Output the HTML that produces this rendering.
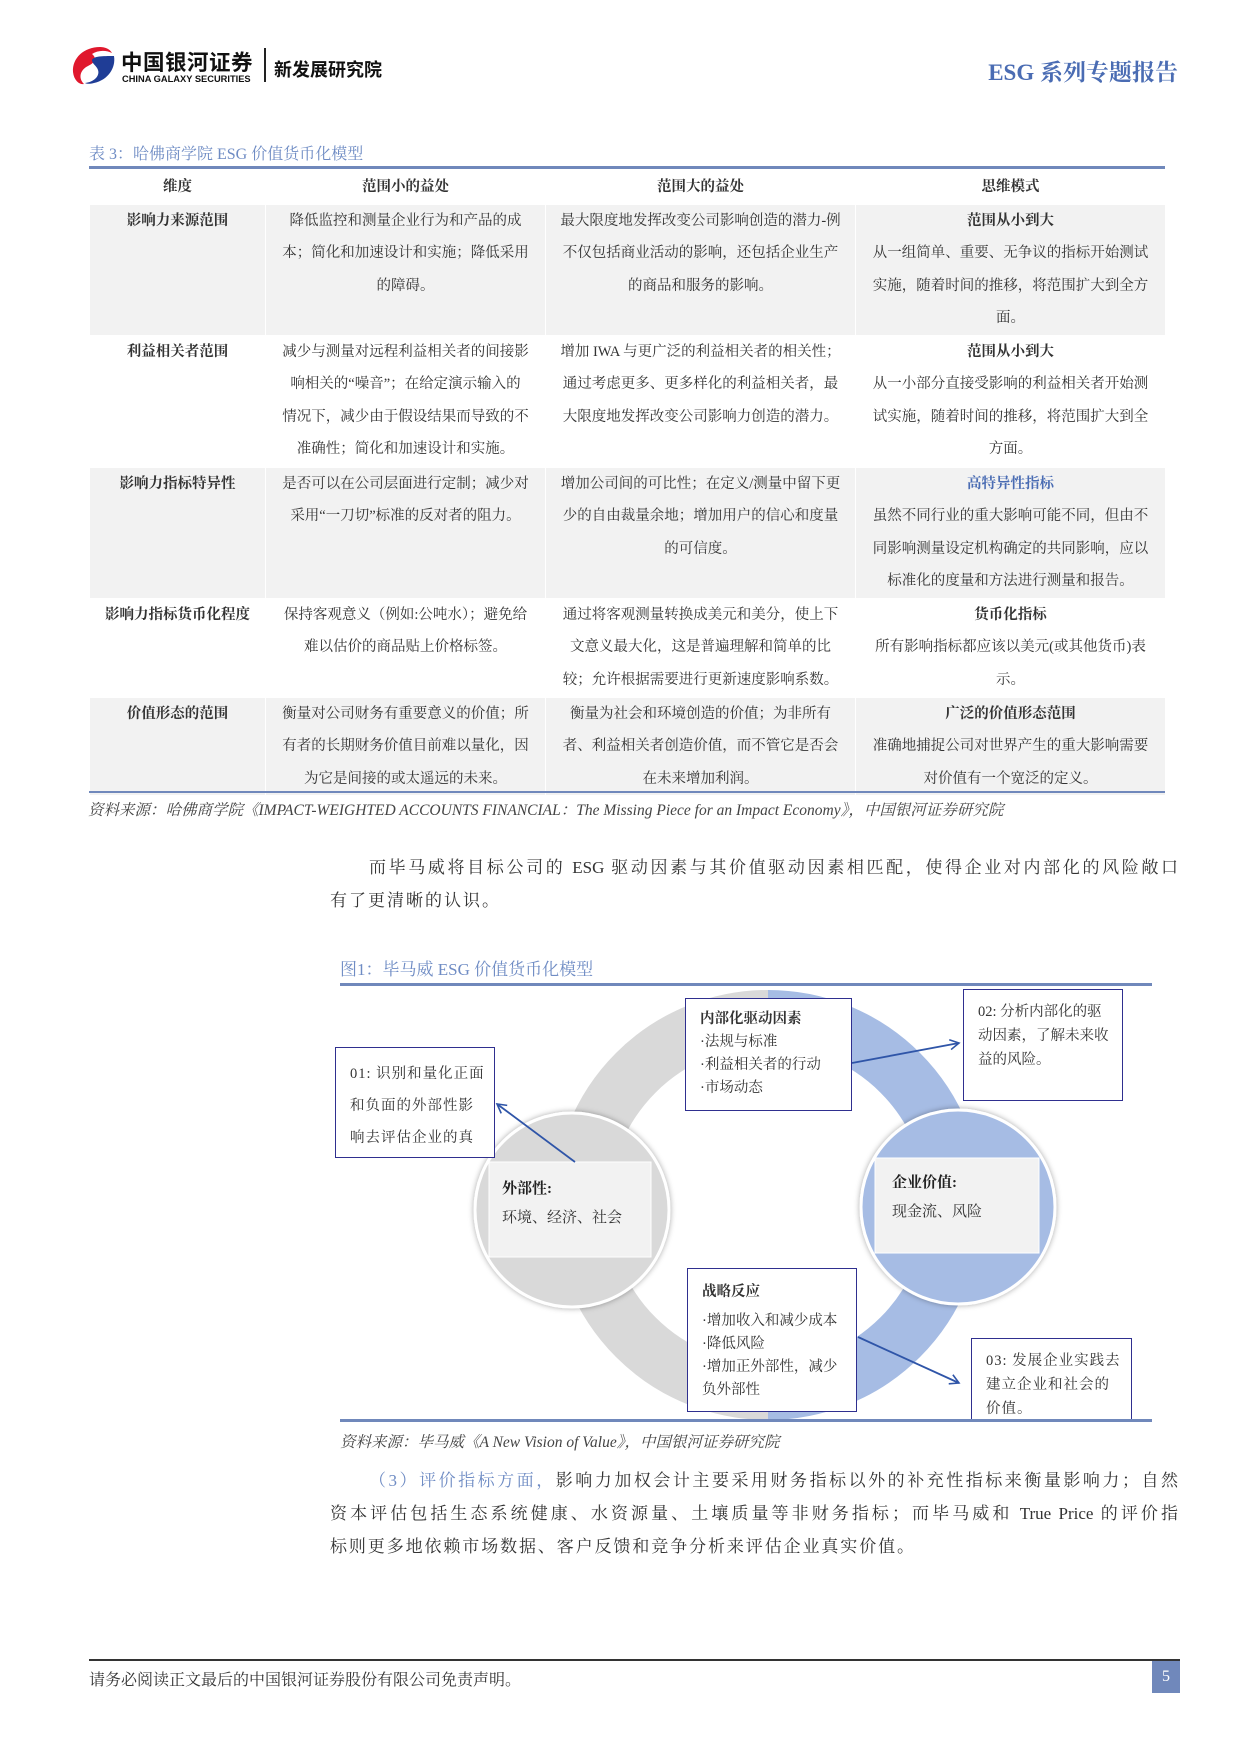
<!DOCTYPE html>
<html><head><meta charset="utf-8"><style>
*{margin:0;padding:0;box-sizing:border-box}
body{width:1240px;height:1754px;background:#fff;position:relative;overflow:hidden;font-family:"Liberation Serif","Noto Serif CJK SC",serif;color:#333}
.a{position:absolute}
.sans{font-family:"Liberation Sans","Noto Sans CJK SC",sans-serif}
table{border-collapse:collapse;table-layout:fixed;position:absolute;left:89px;top:170px;width:1076px;font-size:14.5px;line-height:32.5px}
td{border:1px solid #fff;text-align:center;vertical-align:top;padding:0 6px;color:#333}
tr.g td{background:#f2f2f2}
td.h{font-weight:bold}
.bx{position:absolute;border:1.5px solid #2f2f8f;background:#fff;font-size:14.5px;color:#333;white-space:nowrap}
.ln{position:absolute;font-size:17px;color:#333;text-align:justify;text-align-last:justify;white-space:nowrap;height:33px;line-height:33px}
</style></head><body>
<!-- header -->
<svg class="a" style="left:70px;top:44px" width="48" height="42" viewBox="0 0 48 42">
<path d="M30 3 C14 3 2 14 3 28 C4 37 10 41 14 40 C8 34 10 26 18 22 C24 19 28 15 22 10 C28 6 36 6 42 9 C40 5 35 3 30 3Z" fill="#e0182d"/>
<path d="M44 12 C46 24 38 36 24 39 C20 40 17 40 15 39 C24 38 30 32 28 26 C27 22 22 20 22 16 C24 12 32 12 44 12Z" fill="#1f3d96"/>
</svg>
<div class="a sans" style="left:121px;top:46px;font-size:21.5px;font-weight:bold;color:#111;letter-spacing:0.5px">中国银河证券</div>
<div class="a sans" style="left:122px;top:74px;font-size:9.3px;font-weight:bold;color:#111">CHINA GALAXY SECURITIES</div>
<div class="a" style="left:264px;top:48px;width:1.5px;height:34px;background:#222"></div>
<div class="a sans" style="left:274px;top:56px;font-size:18px;font-weight:bold;color:#111">新发展研究院</div>
<div class="a" style="right:62px;top:54px;font-size:23px;font-weight:bold;color:#4a6cb3">ESG 系列专题报告</div>

<!-- table -->
<div class="a" style="left:89px;top:141px;font-size:16px;color:#6f8cc4">表 3：哈佛商学院 ESG 价值货币化模型</div>
<div class="a" style="left:89px;top:166px;width:1076px;height:3px;background:#7088bb"></div>
<table>
<colgroup><col style="width:176px"><col style="width:280px"><col style="width:310px"><col style="width:310px"></colgroup>
<tr style="height:33px"><td class="h">维度</td><td class="h">范围小的益处</td><td class="h">范围大的益处</td><td class="h">思维模式</td></tr>
<tr class="g" style="height:131px"><td class="h">影响力来源范围</td><td>降低监控和测量企业行为和产品的成<br>本；简化和加速设计和实施；降低采用<br>的障碍。</td><td>最大限度地发挥改变公司影响创造的潜力-例<br>不仅包括商业活动的影响，还包括企业生产<br>的商品和服务的影响。</td><td><b>范围从小到大</b><br>从一组简单、重要、无争议的指标开始测试<br>实施，随着时间的推移，将范围扩大到全方<br>面。</td></tr>
<tr style="height:132px"><td class="h">利益相关者范围</td><td>减少与测量对远程利益相关者的间接影<br>响相关的“噪音”；在给定演示输入的<br>情况下，减少由于假设结果而导致的不<br>准确性；简化和加速设计和实施。</td><td>增加 IWA 与更广泛的利益相关者的相关性；<br>通过考虑更多、更多样化的利益相关者，最<br>大限度地发挥改变公司影响力创造的潜力。</td><td><b>范围从小到大</b><br>从一小部分直接受影响的利益相关者开始测<br>试实施，随着时间的推移，将范围扩大到全<br>方面。</td></tr>
<tr class="g" style="height:129px"><td class="h">影响力指标特异性</td><td>是否可以在公司层面进行定制；减少对<br>采用“一刀切”标准的反对者的阻力。</td><td>增加公司间的可比性；在定义/测量中留下更<br>少的自由裁量余地；增加用户的信心和度量<br>的可信度。</td><td><b style="color:#4a6cb3">高特异性指标</b><br>虽然不同行业的重大影响可能不同，但由不<br>同影响测量设定机构确定的共同影响，应以<br>标准化的度量和方法进行测量和报告。</td></tr>
<tr style="height:99px"><td class="h">影响力指标货币化程度</td><td>保持客观意义（例如:公吨水）；避免给<br>难以估价的商品贴上价格标签。</td><td>通过将客观测量转换成美元和美分，使上下<br>文意义最大化，这是普遍理解和简单的比<br>较；允许根据需要进行更新速度影响系数。</td><td><b>货币化指标</b><br>所有影响指标都应该以美元(或其他货币)表<br>示。</td></tr>
<tr class="g" style="height:98px"><td class="h">价值形态的范围</td><td>衡量对公司财务有重要意义的价值；所<br>有者的长期财务价值目前难以量化，因<br>为它是间接的或太遥远的未来。</td><td>衡量为社会和环境创造的价值；为非所有<br>者、利益相关者创造价值，而不管它是否会<br>在未来增加利润。</td><td><b>广泛的价值形态范围</b><br>准确地捕捉公司对世界产生的重大影响需要<br>对价值有一个宽泛的定义。</td></tr>
</table>
<div class="a" style="left:89px;top:791px;width:1076px;height:2px;background:#7088bb"></div>
<div class="a" style="left:88px;top:798px;font-size:15.5px;font-style:italic;color:#444">资料来源：哈佛商学院《IMPACT-WEIGHTED ACCOUNTS FINANCIAL：The Missing Piece for an Impact Economy》，中国银河证券研究院</div>

<div class="ln" style="left:369px;top:851px;width:809px">而毕马威将目标公司的 ESG 驱动因素与其价值驱动因素相匹配，使得企业对内部化的风险敞口</div>
<div class="ln" style="left:330px;top:884px;text-align-last:left;letter-spacing:2px">有了更清晰的认识。</div>

<!-- figure -->
<div class="a" style="left:340px;top:955px;font-size:17px;color:#6f8cc4">图1：毕马威 ESG 价值货币化模型</div>
<div class="a" style="left:340px;top:983px;width:812px;height:3px;background:#7088bb"></div>
<svg class="a" style="left:0;top:0" width="1240" height="1754">
<defs>
<clipPath id="L"><rect x="0" y="0" width="768" height="1754"/></clipPath>
<clipPath id="R"><rect x="768" y="0" width="472" height="1754"/></clipPath>
<filter id="sh" x="-20%" y="-20%" width="140%" height="140%"><feDropShadow dx="0" dy="0" stdDeviation="3" flood-color="#000" flood-opacity="0.35"/></filter>
<marker id="ar" markerWidth="12" markerHeight="12" refX="10" refY="6" orient="auto" markerUnits="userSpaceOnUse"><path d="M1 1 L10 6 L1 11" fill="none" stroke="#2f55a8" stroke-width="1.6"/></marker>
</defs>
<circle cx="768" cy="1205" r="187" fill="none" stroke="#d9d9d9" stroke-width="56" clip-path="url(#L)"/>
<circle cx="768" cy="1205" r="187" fill="none" stroke="#a6bce4" stroke-width="56" clip-path="url(#R)"/>
<circle cx="572" cy="1210" r="97" fill="#d9d9d9" stroke="#fff" stroke-width="3" filter="url(#sh)"/>
<circle cx="958" cy="1207" r="97" fill="#a6bce4" stroke="#fff" stroke-width="3" filter="url(#sh)"/>
<rect x="489" y="1162" width="162" height="95" fill="#f2f2f2" stroke="#fff"/>
<rect x="875" y="1158" width="164" height="95" fill="#f2f2f2" stroke="#fff"/>
</svg>
<div class="a" style="left:502px;top:1177px;font-size:15px;font-weight:bold;color:#222">外部性:</div>
<div class="a" style="left:502px;top:1206px;font-size:15px;color:#333">环境、经济、社会</div>
<div class="a" style="left:892px;top:1171px;font-size:15px;font-weight:bold;color:#222">企业价值:</div>
<div class="a" style="left:892px;top:1200px;font-size:15px;color:#333">现金流、风险</div>

<div class="bx" style="left:685px;top:998px;width:167px;height:113px;padding:9px 0 0 14px;line-height:23px"><b>内部化驱动因素</b><br>·法规与标准<br>·利益相关者的行动<br>·市场动态</div>
<div class="bx" style="left:963px;top:989px;width:160px;height:112px;padding:10px 0 0 14px;line-height:24px">02: 分析内部化的驱<br>动因素，了解未来收<br>益的风险。</div>
<div class="bx" style="left:335px;top:1047px;width:160px;height:111px;padding:10px 0 0 14px;line-height:32px;letter-spacing:1px">01: 识别和量化正面<br>和负面的外部性影<br>响去评估企业的真</div>
<div class="bx" style="left:687px;top:1268px;width:170px;height:144px;padding:12px 0 0 14px;line-height:23px"><b>战略反应</b><br><div style="height:6px"></div>·增加收入和减少成本<br>·降低风险<br>·增加正外部性，减少<br>负外部性</div>
<div class="bx" style="left:971px;top:1338px;width:161px;height:82px;padding:10px 0 0 14px;line-height:24px;letter-spacing:1px">03: 发展企业实践去<br>建立企业和社会的<br>价值。</div>
<svg class="a" style="left:0;top:0" width="1240" height="1754">
<line x1="575" y1="1162" x2="497" y2="1104" stroke="#2f55a8" stroke-width="1.8" marker-end="url(#ar)"/>
<line x1="852" y1="1063" x2="959" y2="1043" stroke="#2f55a8" stroke-width="1.8" marker-end="url(#ar)"/>
<line x1="858" y1="1337" x2="959" y2="1383" stroke="#2f55a8" stroke-width="1.8" marker-end="url(#ar)"/>
</svg>
<div class="a" style="left:340px;top:1419px;width:812px;height:3px;background:#7088bb"></div>
<div class="a" style="left:340px;top:1430px;font-size:15.5px;font-style:italic;color:#444">资料来源：毕马威《A New Vision of Value》，中国银河证券研究院</div>

<div class="ln" style="left:369px;top:1464px;width:809px"><span style="color:#6f8cc4">（3）评价指标方面，</span>影响力加权会计主要采用财务指标以外的补充性指标来衡量影响力；自然</div>
<div class="ln" style="left:330px;top:1497px;width:848px">资本评估包括生态系统健康、水资源量、土壤质量等非财务指标；而毕马威和 True Price 的评价指</div>
<div class="ln" style="left:330px;top:1530px;text-align-last:left;letter-spacing:1.9px">标则更多地依赖市场数据、客户反馈和竞争分析来评估企业真实价值。</div>

<!-- footer -->
<div class="a" style="left:89px;top:1659px;width:1091px;height:1.5px;background:#333"></div>
<div class="a" style="left:89px;top:1667px;font-size:16px;color:#333">请务必阅读正文最后的中国银河证券股份有限公司免责声明。</div>
<div class="a" style="left:1152px;top:1661px;width:28px;height:32px;background:#7088bb;color:#fff;font-size:16px;text-align:center;line-height:32px">5</div>
</body></html>
